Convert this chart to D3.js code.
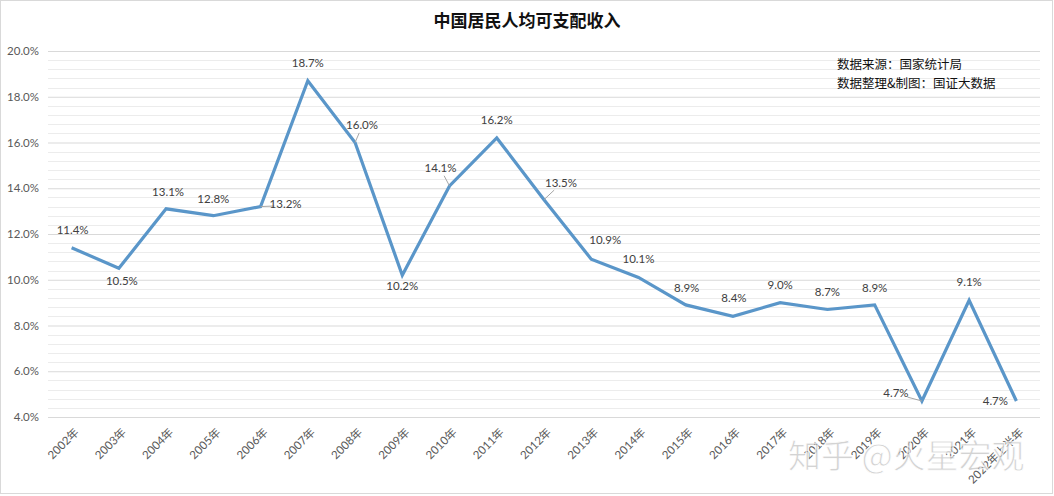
<!DOCTYPE html>
<html>
<head>
<meta charset="utf-8">
<script src="https://cdn.jsdelivr.net/npm/d3@7"></script>
<style>
  body { margin: 0; background: #fff; }
  text { font-family: Lato, "Noto Sans CJK SC", sans-serif; }
</style>
</head>
<body>
<svg id="chart" width="1054" height="496"></svg>
<script>
var years = ["2002年", "2003年", "2004年", "2005年", "2006年", "2007年", "2008年", "2009年", "2010年", "2011年",
    "2012年", "2013年", "2014年", "2015年", "2016年", "2017年", "2018年", "2019年", "2020年", "2021年", "2022年上半年"];
var growth = [11.4, 10.5, 13.1, 12.8, 13.2, 18.7, 16.0, 10.2, 14.1, 16.2,
    13.5, 10.9, 10.1, 8.9, 8.4, 9.0, 8.7, 8.9, 4.7, 9.1, 4.7];
var yTicks = [4, 6, 8, 10, 12, 14, 16, 18, 20];

// where each data label sits relative to its point (dx, dy), and which get a leader line
var labelOffsets = [[1, -17], [3, 14], [2, -16], [0, -16], [25, -1], [0, -17], [7, -16], [0, 12], [-9, -17], [0, -17],
    [17, -16], [14, -18], [0, -17], [1, -16], [1, -17], [0, -17], [0, -16], [0, -16], [-26, -7], [0, -17], [-21, 1]];
var leaders = [4, 6, 8, 10, 18];

var svg = d3.select("#chart"),
    width = +svg.attr("width"),
    height = +svg.attr("height");

var plotLeft = 48, plotRight = 1040, plotTop = 51, plotBottom = 417;

// chart border
svg.append("rect")
    .attr("x", 0.5).attr("y", 0.5)
    .attr("width", width - 2).attr("height", height - 3)
    .attr("fill", "#fff")
    .attr("stroke", "#d9d9d9");

var x = d3.scaleBand().domain(years).range([plotLeft, plotRight]);
var y = d3.scaleLinear().domain([4, 20]).range([plotBottom, plotTop]);
var cx = function (d) { return x(d) + x.bandwidth() / 2; };

// minor grid every 0.4%
var minor = d3.range(4, 20.01, 0.4).filter(function (v) { return Math.abs(v / 2 - Math.round(v / 2)) > 0.01; });
svg.append("g")
    .selectAll("line")
    .data(minor)
    .enter().append("line")
    .attr("x1", plotLeft).attr("x2", plotRight)
    .attr("y1", function (d) { return Math.round(y(d)) + 0.5; })
    .attr("y2", function (d) { return Math.round(y(d)) + 0.5; })
    .attr("stroke", "#ececec");

var yAxis = d3.axisLeft(y)
    .tickValues(yTicks)
    .tickSize(-(plotRight - plotLeft))
    .tickFormat(function (d) { return d.toFixed(1) + "%"; });

var yg = svg.append("g")
    .attr("transform", "translate(" + plotLeft + ",0)")
    .call(yAxis);
yg.select(".domain").remove();
yg.selectAll(".tick line").attr("stroke", "#d9d9d9");
yg.selectAll(".tick text")
    .attr("x", -9)
    .attr("fill", "#595959")
    .style("font-size", "11.5px");

var xAxis = d3.axisBottom(x).tickSize(0);
var xg = svg.append("g")
    .attr("transform", "translate(0," + plotBottom + ")")
    .call(xAxis);
xg.select(".domain").remove();
xg.selectAll(".tick text")
    .attr("fill", "#595959")
    .style("font-size", "11.5px")
    .attr("text-anchor", "end")
    .attr("dy", null)
    .attr("y", 0)
    .attr("transform", "translate(8,16) rotate(-45)");

var line = d3.line()
    .x(function (d, i) { return cx(years[i]); })
    .y(function (d) { return y(d); });

svg.append("path")
    .datum(growth)
    .attr("fill", "none")
    .attr("stroke", "#5a96c9")
    .attr("stroke-width", 3.2)
    .attr("stroke-linejoin", "miter")
    .attr("d", line);

// leader lines
svg.append("g")
    .selectAll("line")
    .data(leaders)
    .enter().append("line")
    .attr("x1", function (i) { return cx(years[i]); })
    .attr("y1", function (i) { return y(growth[i]); })
    .attr("x2", function (i) {
        var o = labelOffsets[i];
        return cx(years[i]) + o[0] * (Math.abs(o[0]) > 20 ? 0.55 : 0.6);
    })
    .attr("y2", function (i) {
        var o = labelOffsets[i];
        return y(growth[i]) + o[1] * (Math.abs(o[0]) > 20 ? 0.55 : 0.6);
    })
    .attr("stroke", "#a6a6a6")
    .attr("stroke-width", 1);

svg.append("g")
    .selectAll("text")
    .data(growth)
    .enter().append("text")
    .attr("x", function (d, i) { return cx(years[i]) + labelOffsets[i][0]; })
    .attr("y", function (d, i) { return y(d) + labelOffsets[i][1]; })
    .attr("text-anchor", "middle")
    .attr("dominant-baseline", "middle")
    .attr("fill", "#404040")
    .style("font-size", "11.5px")
    .text(function (d) { return d.toFixed(1) + "%"; });

svg.append("text")
    .attr("x", width / 2)
    .attr("y", 22)
    .attr("text-anchor", "middle")
    .attr("dominant-baseline", "middle")
    .attr("fill", "#111")
    .style("font-family", "'Noto Sans CJK SC', sans-serif")
    .style("font-weight", "bold")
    .style("font-size", "17px")
    .text("中国居民人均可支配收入");

var notes = ["数据来源：国家统计局", "数据整理&制图：国证大数据"];
svg.append("g")
    .selectAll("text")
    .data(notes)
    .enter().append("text")
    .attr("x", 837)
    .attr("y", function (d, i) { return 66 + i * 19; })
    .attr("dominant-baseline", "middle")
    .attr("fill", "#111")
    .style("font-family", "'Noto Sans CJK SC', sans-serif")
    .style("font-size", "12.5px")
    .text(function (d) { return d; });

// watermark
svg.append("text")
    .attr("x", 788)
    .attr("y", 468)
    .attr("fill", "#b5b5b5")
    .attr("fill-opacity", 0.6)
    .attr("stroke", "#fff")
    .attr("stroke-width", 0.8)
    .style("font-family", "'Noto Sans CJK SC', sans-serif")
    .style("font-size", "33px")
    .text("知乎 @火星宏观");
</script>
</body>
</html>
